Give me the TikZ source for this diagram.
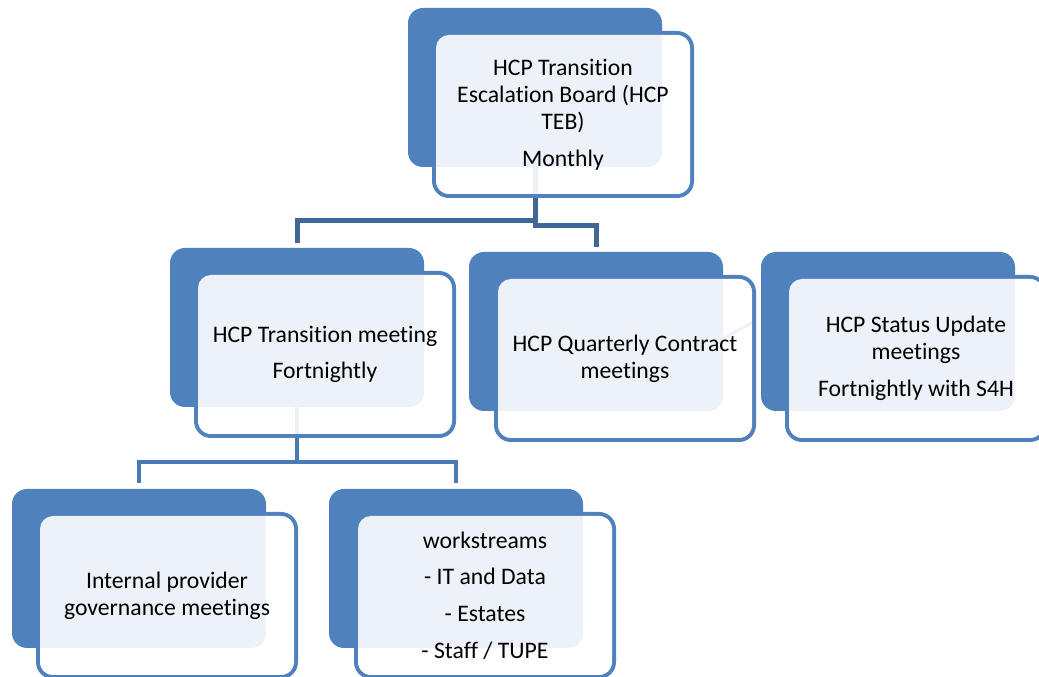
\documentclass[tikz,border=0pt]{standalone}
\usepackage{fontspec}
\setmainfont{Carlito}[Ligatures=NoCommon]
\usetikzlibrary{calc}
\pgfdeclarelayer{paper}
\pgfdeclarelayer{background}
\pgfsetlayers{paper,background,main}
\definecolor{accent}{HTML}{4F81BD}
\definecolor{connA}{HTML}{3F6899}
\definecolor{connB}{HTML}{4A7AB3}
\tikzset{
  backbox/.style={rectangle, fill=accent, draw=none, rounded corners=15pt,
    minimum width=254pt, minimum height=159pt, inner sep=0pt},
  frontline/.style={rectangle, draw=accent, line width=4pt, rounded corners=15pt,
    minimum width=258pt, minimum height=163pt, inner sep=0pt},
  frontfill/.style={rectangle, fill=white, fill opacity=0.9, text opacity=1,
    draw=none, rounded corners=13pt, minimum width=254pt, minimum height=159pt,
    inner sep=0pt, align=center, text=black,
    font=\fontsize{23.7}{27}\selectfont},
  upperconn/.style={draw=connA, line width=5pt},
  lowerconn/.style={draw=connB, line width=4pt},
  faintconn/.style={draw=accent, line width=3pt},
}
\begin{document}
\begin{tikzpicture}[x=1pt,y=1pt]
\useasboundingbox (0,0) rectangle (1039,677);
\begin{pgfonlayer}{paper}
\fill[white] (0,0) rectangle (1039,677);
\end{pgfonlayer}

% top unit
\node[frontline] (tebL) at (563,562.5) {};
\node[backbox] (tebB) at (535,589.5) {};
\node[frontfill] (teb) at (563,562.5) {HCP Transition\\Escalation Board (HCP\\TEB)\\[9.7pt]Monthly};

% level 2
\node[frontline] (transL) at (325,322.5) {};
\node[backbox] (transB) at (297,349.5) {};
\node[frontfill] (trans) at (325,322.5) {HCP Transition meeting\\[9.7pt]Fortnightly};

\node[frontline] (quartL) at (625,318.5) {};
\node[backbox] (quartB) at (596,345.5) {};
\node[frontfill] (quart) at (625,318.5) {HCP Quarterly Contract\\meetings};

\node[frontline] (statL) at (916,318.5) {};
\node[backbox] (statB) at (888,345.5) {};
\node[frontfill] (stat) at (916,318.5) {HCP Status Update\\meetings\\[9.7pt]Fortnightly with S4H};

% level 3
\node[frontline] (intL) at (167,81.5) {};
\node[backbox] (intB) at (139,108.5) {};
\node[frontfill] (int) at (167,81.5) {Internal provider\\governance meetings};

\node[frontline] (workL) at (485,81.5) {};
\node[backbox] (workB) at (456,108.5) {};
\node[frontfill] (work) at (485,81.5) {workstreams\\[9.7pt]- IT and Data\\[9.7pt]- Estates\\[9.7pt]- Staff / TUPE};

\coordinate (fa) at (715,334);
\coordinate (fb) at (755,356);

\begin{pgfonlayer}{background}
\draw[upperconn] (tebB.south) |- ($(transB.north)+(0,27)$) -- ([yshift=5pt]transB.north);
\draw[upperconn] (tebB.south) |- ($(quartB.north)+(0,26)$) -- ([yshift=5pt]quartB.north);
\draw[lowerconn] (transB.south) |- ($(intB.north)+(0,27)$) -- ([yshift=6pt]intB.north);
\draw[lowerconn] (transB.south) |- ($(workB.north)+(0,27)$) -- ([yshift=6pt]workB.north);
\draw[faintconn] (fa) -- (fb);
\end{pgfonlayer}
\end{tikzpicture}
\end{document}
